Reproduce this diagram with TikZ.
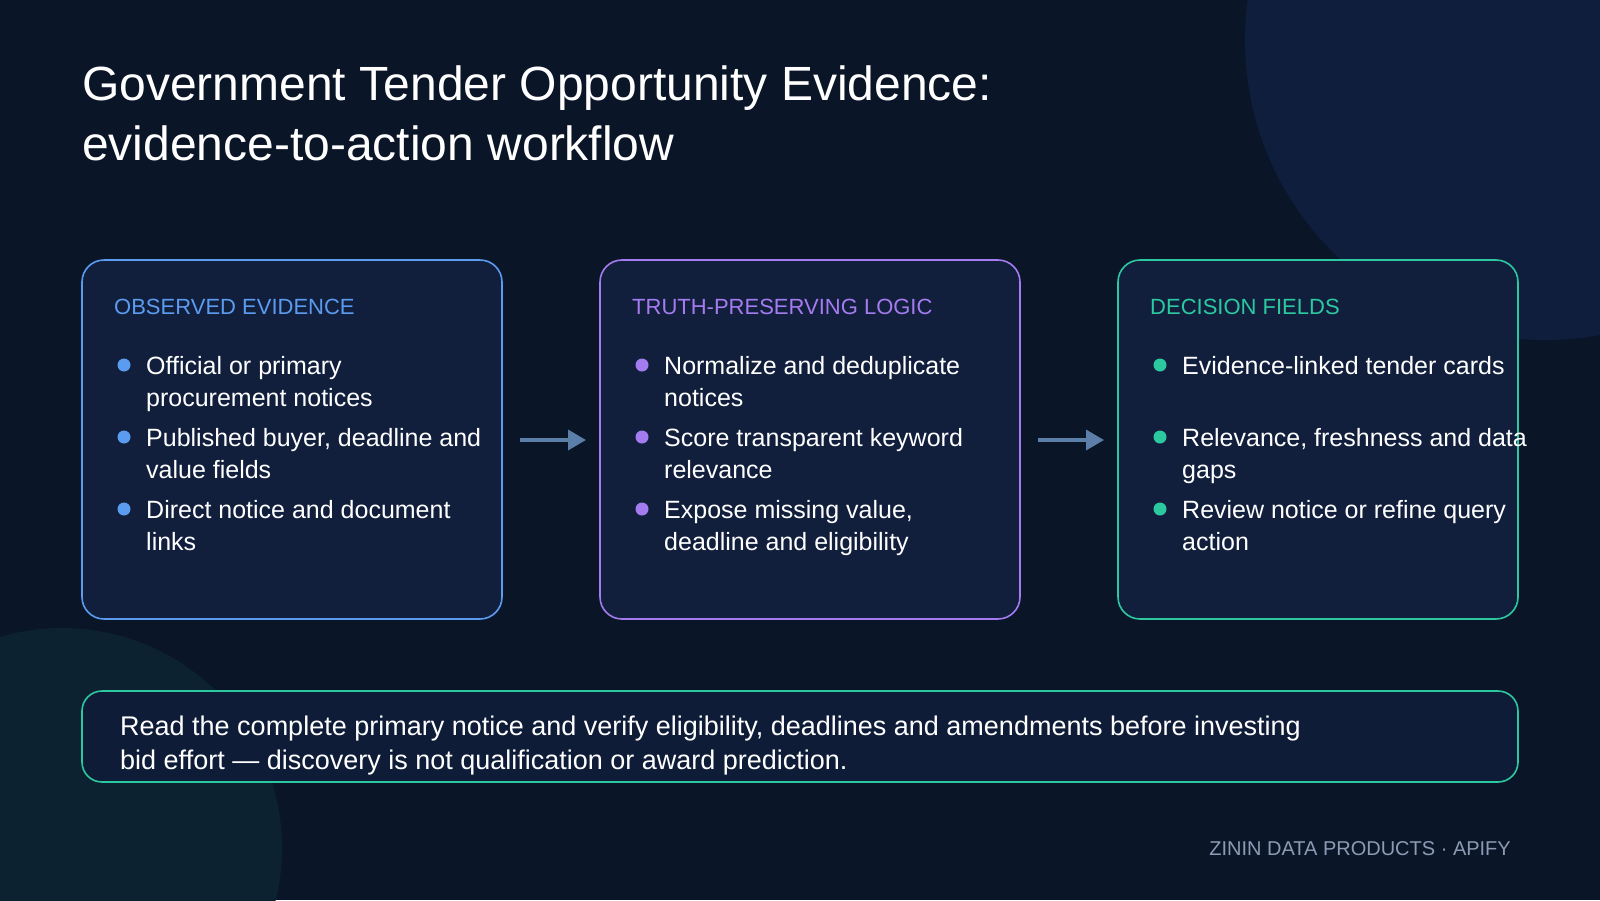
\documentclass[tikz,border=0pt]{standalone}
\usepackage{fontspec}
\setmainfont{Liberation Sans}
\usetikzlibrary{arrows.meta}
\definecolor{bg}{HTML}{0A1528}
\definecolor{cardbg}{HTML}{111F3D}
\definecolor{blueA}{HTML}{5B9CF0}
\definecolor{purpA}{HTML}{A57BF0}
\definecolor{greenA}{HTML}{2CC9A0}
\definecolor{arrowc}{HTML}{5B7FA8}
\definecolor{foot}{HTML}{8C9BB3}
\definecolor{circA}{HTML}{0F1E3D}
\definecolor{circB}{HTML}{0C2230}
\newcommand{\ml}[1]{\begin{tabular}[t]{@{}l@{}}#1\end{tabular}}
\begin{document}
\begin{tikzpicture}[x=1pt,y=-1pt,
  card/.style={rounded corners=22pt,line width=1.6pt,fill=cardbg},
  head/.style={anchor=base west,inner sep=0pt,font=\fontsize{22}{26}\selectfont},
  item/.style={anchor=base west,inner sep=0pt,text=white,font=\fontsize{25}{32}\selectfont},
  dot/.style={circle,inner sep=0pt,minimum size=13pt},
  arr/.style={line width=3.5pt,color=arrowc,-{Triangle[length=18pt,width=20pt]}}]
\useasboundingbox (0,0) rectangle (1600,900);
\fill[bg] (0,0) rectangle (1600,900);
\begin{scope}
\clip (0,0) rectangle (1600,900);
\fill[circA] (1545,40) circle (300);
\fill[circB] (62,848) circle (220);
\end{scope}
\node[anchor=base west,inner sep=0pt,text=white,font=\fontsize{48}{60}\selectfont] (title) at (82,100) {\begin{tabular}[t]{@{}l@{}}Government Tender Opportunity Evidence:\\evidence-to-action workflow\end{tabular}};
\draw[card,draw=blueA] (82,260) rectangle (502,619);
\draw[card,draw=purpA] (600,260) rectangle (1020,619);
\draw[card,draw=greenA] (1118,260) rectangle (1518,619);
\node[head,text=blueA] (h1) at (114,314) {OBSERVED EVIDENCE};
\node[head,text=purpA] (h2) at (632,314) {TRUTH-PRESERVING LOGIC};
\node[head,text=greenA] (h3) at (1150,314) {DECISION FIELDS};
\foreach \x/\c/\k/\a/\b/\cc in {
 114/blueA/a/{Official or primary\\procurement notices}/{Published buyer, deadline and\\value fields}/{Direct notice and document\\links},
 632/purpA/b/{Normalize and deduplicate\\notices}/{Score transparent keyword\\relevance}/{Expose missing value,\\deadline and eligibility},
 1150/greenA/c/{Evidence-linked tender cards}/{Relevance, freshness and data\\gaps}/{Review notice or refine query\\action}}{
  \node[dot,fill=\c] (d1\k) at (\x+10,365) {};
  \node[dot,fill=\c] (d2\k) at (\x+10,437) {};
  \node[dot,fill=\c] (d3\k) at (\x+10,509) {};
  \node[item] (t1\k) at (\x+32,374) {\ml{\a}};
  \node[item] (t2\k) at (\x+32,446) {\ml{\b}};
  \node[item] (t3\k) at (\x+32,518) {\ml{\cc}};
}
\coordinate (a1s) at (520,440); \coordinate (a1e) at (586,440);
\coordinate (a2s) at (1038,440); \coordinate (a2e) at (1104,440);
\draw[arr] (a1s) -- (a1e);
\draw[arr] (a2s) -- (a2e);
\draw[rounded corners=20pt,line width=1.6pt,draw=greenA,fill=cardbg!75!bg] (82,691) rectangle (1518,782);
\node[item,font=\fontsize{27}{34}\selectfont] (note) at (120,735) {\ml{Read the complete primary notice and verify eligibility, deadlines and amendments before investing\\bid effort — discovery is not qualification or award prediction.}};
\node[anchor=base east,inner sep=0pt,text=foot,font=\fontsize{20}{24}\selectfont] (footer) at (1511,855) {ZININ DATA PRODUCTS · APIFY};
\end{tikzpicture}
\end{document}
